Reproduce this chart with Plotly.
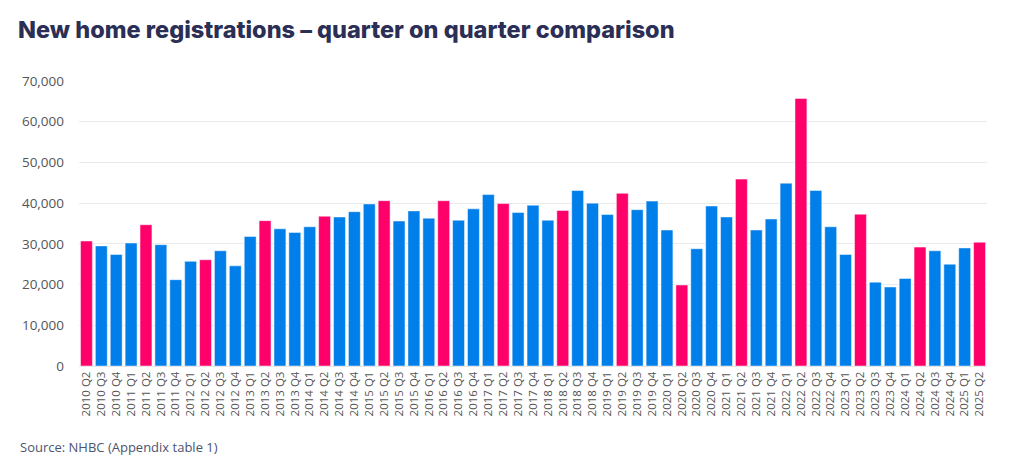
import plotly.graph_objects as go

quarters = [
    "2010 Q2", "2010 Q3", "2010 Q4",
    "2011 Q1", "2011 Q2", "2011 Q3", "2011 Q4",
    "2012 Q1", "2012 Q2", "2012 Q3", "2012 Q4",
    "2013 Q1", "2013 Q2", "2013 Q3", "2013 Q4",
    "2014 Q1", "2014 Q2", "2014 Q3", "2014 Q4",
    "2015 Q1", "2015 Q2", "2015 Q3", "2015 Q4",
    "2016 Q1", "2016 Q2", "2016 Q3", "2016 Q4",
    "2017 Q1", "2017 Q2", "2017 Q3", "2017 Q4",
    "2018 Q1", "2018 Q2", "2018 Q3", "2018 Q4",
    "2019 Q1", "2019 Q2", "2019 Q3", "2019 Q4",
    "2020 Q1", "2020 Q2", "2020 Q3", "2020 Q4",
    "2021 Q1", "2021 Q2", "2021 Q3", "2021 Q4",
    "2022 Q1", "2022 Q2", "2022 Q3", "2022 Q4",
    "2023 Q1", "2023 Q2", "2023 Q3", "2023 Q4",
    "2024 Q1", "2024 Q2", "2024 Q3", "2024 Q4",
    "2025 Q1", "2025 Q2",
]

registrations = [
    30700, 29500, 27400,
    30200, 34700, 29800, 21200,
    25700, 26100, 28300, 24600,
    31800, 35700, 33700, 32800,
    34200, 36800, 36600, 37900,
    39800, 40600, 35600, 38100,
    36300, 40600, 35800, 38600,
    42100, 39900, 37700, 39500,
    35800, 38200, 43100, 40000,
    37200, 42400, 38400, 40500,
    33400, 19900, 28800, 39300,
    36600, 45900, 33400, 36100,
    44900, 65700, 43100, 34200,
    27400, 37300, 20600, 19400,
    21500, 29200, 28300, 25000,
    29000, 30400,
]

BLUE = "#007EEA"
PINK = "#FF006A"
colors = [PINK if q.endswith("Q2") else BLUE for q in quarters]

fig = go.Figure(
    go.Bar(
        x=quarters,
        y=registrations,
        marker=dict(color=colors, line=dict(color="rgba(255,255,255,0.6)", width=0.8)),
        hovertemplate="%{x}: %{y:,}<extra></extra>",
    )
)

fig.update_layout(
    width=1014,
    height=463,
    paper_bgcolor="white",
    plot_bgcolor="white",
    margin=dict(l=71, r=35, t=73, b=105),
    bargap=0.2,
    showlegend=False,
    title=dict(
        text="New home registrations – quarter on quarter comparison",
        x=0.0099, xanchor="left",
        y=0.952, yanchor="middle",
        font=dict(family="Inter, sans-serif", size=23.5, weight=800, color="#2B2E55"),
    ),
    annotations=[
        dict(
            text="Source: NHBC (Appendix table 1)",
            xref="paper", yref="paper",
            x=-0.0672, y=-0.284, xanchor="left", yanchor="middle",
            showarrow=False,
            font=dict(family="Open Sans, sans-serif", size=13, color="#4C5470"),
        )
    ],
)

fig.update_xaxes(
    type="category",
    tickangle=-90,
    tickfont=dict(family="Open Sans, sans-serif", size=11.5, color="#555555"),
    showgrid=False,
    showline=True,
    linecolor="#E6E6E6",
    ticks="",
)

fig.update_yaxes(
    range=[0, 70000],
    tickvals=[0, 10000, 20000, 30000, 40000, 50000, 60000, 70000],
    tickformat=",",
    tickfont=dict(family="Open Sans, sans-serif", size=13.5, color="#555555"),
    showgrid=True,
    gridcolor="#EBEBEB",
    gridwidth=1,
    zeroline=False,
    ticklabelstandoff=14,
)

fig.write_html("out.html")
